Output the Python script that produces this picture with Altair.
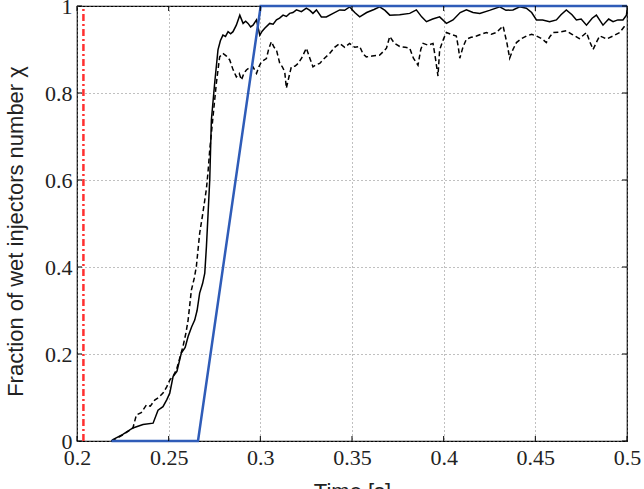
import altair as alt
import pandas as pd

# ---- data ----
solid_time = [0.2188, 0.2196, 0.2250, 0.2305, 0.2360, 0.2415, 0.2442, 0.2469, 0.2490, 0.2506,
              0.2524, 0.2545, 0.2569, 0.2590, 0.2606, 0.2625, 0.2642, 0.2655, 0.2669, 0.2685,
              0.2697, 0.2706, 0.2715, 0.2724, 0.2733, 0.2751, 0.2769, 0.2782, 0.2796, 0.2810,
              0.2824, 0.2838, 0.2851, 0.2869, 0.2888, 0.2906, 0.2920, 0.2933, 0.2947, 0.2960,
              0.2979, 0.2997, 0.3010, 0.3024, 0.3051, 0.3070, 0.3088, 0.3105, 0.3124, 0.3142,
              0.3160, 0.3178, 0.3197, 0.3224, 0.3251, 0.3270, 0.3287, 0.3306, 0.3333, 0.3360,
              0.3397, 0.3433, 0.3460, 0.3487, 0.3515, 0.3542, 0.3580, 0.3620, 0.3651, 0.3680,
              0.3706, 0.3760, 0.3815, 0.3851, 0.3880, 0.3906, 0.3940, 0.3978, 0.4015, 0.4051,
              0.4090, 0.4124, 0.4160, 0.4197, 0.4250, 0.4306, 0.4340, 0.4378, 0.4415, 0.4451,
              0.4480, 0.4506, 0.4540, 0.4578, 0.4615, 0.4640, 0.4669, 0.4700, 0.4724, 0.4750,
              0.4779, 0.4810, 0.4833, 0.4869, 0.4900, 0.4924, 0.4950, 0.4978, 0.4997, 0.5000]
solid_frac = [0.000, 0.003, 0.015, 0.030, 0.038, 0.041, 0.071, 0.079, 0.095, 0.110,
              0.148, 0.160, 0.202, 0.215, 0.240, 0.262, 0.278, 0.300, 0.340, 0.362,
              0.386, 0.447, 0.523, 0.600, 0.738, 0.823, 0.899, 0.920, 0.933, 0.930,
              0.941, 0.936, 0.941, 0.956, 0.979, 0.960, 0.965, 0.960, 0.952, 0.956,
              0.968, 0.933, 0.942, 0.949, 0.960, 0.958, 0.968, 0.972, 0.979, 0.976,
              0.983, 0.985, 0.991, 0.987, 0.995, 0.990, 0.983, 0.991, 0.975, 0.975,
              0.983, 0.991, 0.990, 0.998, 0.985, 0.975, 0.985, 0.992, 0.998, 0.990,
              0.979, 0.980, 0.983, 0.991, 0.975, 0.964, 0.970, 0.975, 0.960, 0.968,
              0.985, 0.991, 0.985, 0.983, 0.990, 0.998, 0.990, 0.991, 0.998, 0.995,
              0.985, 0.968, 0.968, 0.964, 0.968, 0.980, 0.991, 0.980, 0.968, 0.970,
              0.956, 0.972, 0.979, 0.956, 0.970, 0.964, 0.968, 0.968, 0.979, 0.990]

dashed_time = [0.2188, 0.2250, 0.2305, 0.2324, 0.2350, 0.2379, 0.2400, 0.2424, 0.2445, 0.2469,
               0.2490, 0.2506, 0.2525, 0.2542, 0.2560, 0.2578, 0.2595, 0.2606, 0.2624, 0.2640,
               0.2651, 0.2669, 0.2685, 0.2697, 0.2706, 0.2715, 0.2724, 0.2742, 0.2760, 0.2778,
               0.2796, 0.2815, 0.2833, 0.2850, 0.2869, 0.2885, 0.2897, 0.2910, 0.2924, 0.2940,
               0.2960, 0.2979, 0.2992, 0.3006, 0.3033, 0.3045, 0.3060, 0.3075, 0.3088, 0.3106,
               0.3120, 0.3133, 0.3142, 0.3155, 0.3169, 0.3190, 0.3206, 0.3225, 0.3251, 0.3270,
               0.3287, 0.3305, 0.3324, 0.3350, 0.3378, 0.3405, 0.3433, 0.3460, 0.3487, 0.3515,
               0.3542, 0.3560, 0.3578, 0.3610, 0.3651, 0.3670, 0.3688, 0.3706, 0.3730, 0.3760,
               0.3790, 0.3815, 0.3835, 0.3860, 0.3875, 0.3888, 0.3915, 0.3942, 0.3955, 0.3969,
               0.3978, 0.4000, 0.4015, 0.4040, 0.4069, 0.4080, 0.4088, 0.4105, 0.4124, 0.4150,
               0.4179, 0.4205, 0.4233, 0.4260, 0.4288, 0.4324, 0.4345, 0.4360, 0.4378, 0.4397,
               0.4425, 0.4451, 0.4480, 0.4506, 0.4535, 0.4560, 0.4580, 0.4597, 0.4630, 0.4669,
               0.4700, 0.4740, 0.4779, 0.4800, 0.4815, 0.4835, 0.4851, 0.4870, 0.4888, 0.4924,
               0.4960, 0.4988]
dashed_frac = [0.000, 0.014, 0.030, 0.060, 0.065, 0.083, 0.080, 0.094, 0.100, 0.110,
               0.125, 0.140, 0.150, 0.163, 0.190, 0.217, 0.250, 0.278, 0.347, 0.375,
               0.401, 0.477, 0.520, 0.554, 0.580, 0.620, 0.669, 0.746, 0.822, 0.883,
               0.891, 0.885, 0.876, 0.855, 0.837, 0.845, 0.830, 0.845, 0.853, 0.858,
               0.860, 0.845, 0.860, 0.872, 0.879, 0.900, 0.918, 0.905, 0.899, 0.868,
               0.860, 0.849, 0.811, 0.835, 0.860, 0.862, 0.868, 0.880, 0.903, 0.880,
               0.860, 0.865, 0.868, 0.880, 0.891, 0.905, 0.914, 0.905, 0.914, 0.905,
               0.907, 0.890, 0.883, 0.885, 0.887, 0.895, 0.903, 0.930, 0.915, 0.907,
               0.905, 0.903, 0.880, 0.864, 0.900, 0.914, 0.910, 0.914, 0.880, 0.839,
               0.899, 0.925, 0.939, 0.935, 0.931, 0.905, 0.880, 0.905, 0.924, 0.928,
               0.931, 0.935, 0.939, 0.935, 0.939, 0.954, 0.915, 0.880, 0.900, 0.916,
               0.925, 0.931, 0.935, 0.931, 0.925, 0.916, 0.930, 0.939, 0.940, 0.943,
               0.935, 0.925, 0.939, 0.915, 0.900, 0.918, 0.931, 0.928, 0.924, 0.931,
               0.939, 0.954]

model_time = [0.2188, 0.2660, 0.3002, 0.5000]
model_frac = [0.0, 0.0, 1.0, 1.0]

onset_time = [0.2035, 0.2035]
onset_frac = [0.0, 1.0]

x_ticks = [0.2, 0.25, 0.3, 0.35, 0.4, 0.45, 0.5]
y_ticks = [0.0, 0.2, 0.4, 0.6, 0.8, 1.0]

# ---- chart ----
W, H = 550, 435
SERIF = "'Liberation Serif', 'DejaVu Serif', serif"
SANS = "'Liberation Sans', Arial, sans-serif"
xs = alt.Scale(domain=[0.2, 0.5], nice=False, zero=False)
ys = alt.Scale(domain=[0, 1], nice=False, zero=False)

x_axis = alt.Axis(values=x_ticks, format=".2~f", title="Time [s]", grid=True,
                  ticks=False, tickSize=0, domain=False, labelFont=SERIF,
                  labelFontSize=22, labelColor="#222222", labelPadding=23,
                  labelBaseline="alphabetic", labelFlush=False, labelOverlap=False,
                  titleFont=SANS, titleFontSize=22, titleFontWeight="normal",
                  titleColor="#222222", titleY=57, titleBaseline="alphabetic",
                  gridColor="#808080", gridDash=[1, 3], gridWidth=1)
y_axis = alt.Axis(values=y_ticks, format=".1~f", title="Fraction of wet injectors number  χ",
                  grid=True, ticks=False, tickSize=0, domain=False,
                  labelFont=SERIF, labelFontSize=22, labelColor="#222222",
                  labelPadding=5, labelFlush=False, labelOverlap=False,
                  titleFont=SANS, titleFontSize=22, titleFontWeight="normal",
                  titleColor="#222222", titleX=-55, titleY=225, titleAngle=-90,
                  titleAlign="center", titleBaseline="alphabetic",
                  gridColor="#808080", gridDash=[1, 3], gridWidth=1)

solid_df = pd.DataFrame({"t": solid_time, "f": solid_frac})
dashed_df = pd.DataFrame({"t": dashed_time, "f": dashed_frac})
model_df = pd.DataFrame({"t": model_time, "f": model_frac})
onset_df = pd.DataFrame({"t": onset_time, "f": onset_frac})
xt_df = pd.DataFrame({"t": x_ticks})
yt_df = pd.DataFrame({"f": y_ticks})

onset = alt.Chart(onset_df).mark_line(color="#ff3030", strokeWidth=2.5,
                                      strokeDash=[7, 3, 2, 3]).encode(
    x=alt.X("t:Q", scale=xs, axis=x_axis),
    y=alt.Y("f:Q", scale=ys, axis=y_axis),
    order=alt.Order("f:Q"),
)
dashed = alt.Chart(dashed_df).mark_line(color="black", strokeWidth=1.5,
                                        strokeDash=[5, 3]).encode(
    x=alt.X("t:Q", scale=xs), y=alt.Y("f:Q", scale=ys))
solid = alt.Chart(solid_df).mark_line(color="black", strokeWidth=1.5).encode(
    x=alt.X("t:Q", scale=xs), y=alt.Y("f:Q", scale=ys))
model = alt.Chart(model_df).mark_line(color="#2f5cb8", strokeWidth=2.5).encode(
    x=alt.X("t:Q", scale=xs), y=alt.Y("f:Q", scale=ys))

tick_bottom = alt.Chart(xt_df).mark_rule(color="black", strokeWidth=1).encode(
    x=alt.X("t:Q", scale=xs), y=alt.value(H), y2=alt.value(H - 5))
tick_top = alt.Chart(xt_df).mark_rule(color="black", strokeWidth=1).encode(
    x=alt.X("t:Q", scale=xs), y=alt.value(0), y2=alt.value(5))
tick_left = alt.Chart(yt_df).mark_rule(color="black", strokeWidth=1).encode(
    y=alt.Y("f:Q", scale=ys), x=alt.value(0), x2=alt.value(5))
tick_right = alt.Chart(yt_df).mark_rule(color="black", strokeWidth=1).encode(
    y=alt.Y("f:Q", scale=ys), x=alt.value(W), x2=alt.value(W - 5))

chart = alt.layer(onset, dashed, solid, model, tick_bottom, tick_top, tick_left, tick_right).properties(
    width=W, height=H,
    autosize=alt.AutoSizeParams(type="none"),
    padding={"left": 77, "top": 6, "right": 17, "bottom": 48},
    background="white",
).configure_view(stroke="black", strokeWidth=1.2).configure_axis(
    labelFont=SERIF, titleFont=SANS)

chart.save("out.html", embed_options={"renderer": "svg", "actions": False})
